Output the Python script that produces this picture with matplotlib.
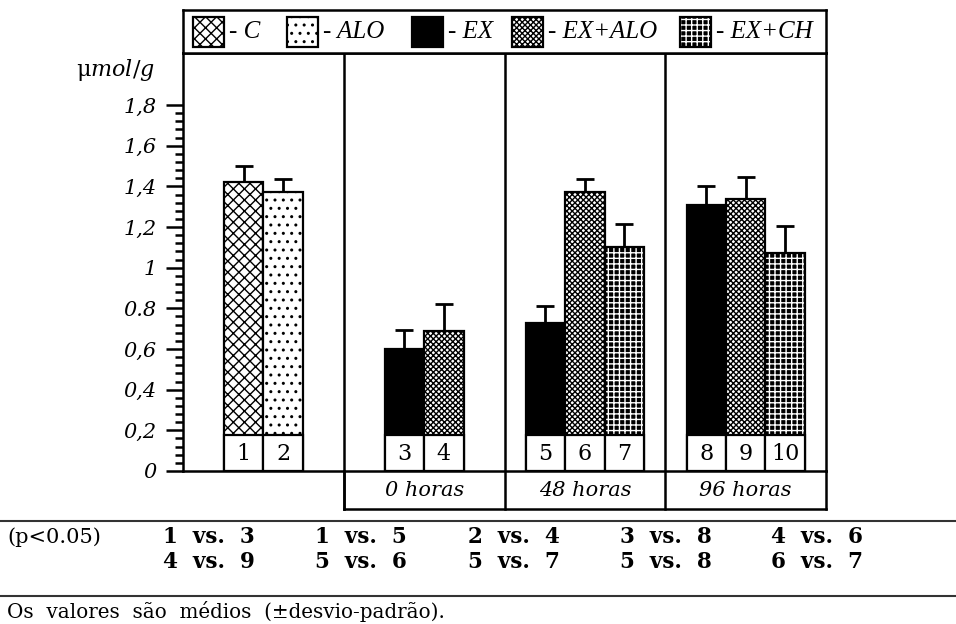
#Bar chart of umol/g per group, with hatch patterns and numbered boxes
import numpy as np
import matplotlib
matplotlib.use("Agg")
import matplotlib.pyplot as plt
from matplotlib.patches import Rectangle
from matplotlib.lines import Line2D

group_labels = ["", "0 horas", "48 horas", "96 horas"]
group_sizes = [2, 2, 3, 3]
bar_numbers = ["1", "2", "3", "4", "5", "6", "7", "8", "9", "10"]
bar_treatments = ["C", "ALO", "EX", "EX+ALO", "EX", "EX+ALO", "EX+CH",
                  "EX", "EX+ALO", "EX+CH"]
means = [1.42, 1.37, 0.60, 0.69, 0.73, 1.37, 1.10, 1.31, 1.34, 1.07]
sds = [0.08, 0.065, 0.095, 0.13, 0.08, 0.065, 0.115, 0.09, 0.105, 0.135]

legend_names = ["C", "ALO", "EX", "EX+ALO", "EX+CH"]
y_ticks = [0, 0.2, 0.4, 0.6, 0.8, 1.0, 1.2, 1.4, 1.6, 1.8]
y_tick_labels = ["0", "0,2", "0,4", "0,6", "0.8", "1", "1,2", "1,4", "1,6", "1,8"]

comparisons = [["1 vs. 3", "1 vs. 5", "2 vs. 4", "3 vs. 8", "4 vs. 6"],
               ["4 vs. 9", "5 vs. 6", "5 vs. 7", "5 vs. 8", "6 vs. 7"]]

# face, hatch colour, hatch
styles = {
    "C": ("white", "black", "xxx"),
    "ALO": ("white", "black", ".."),
    "EX": ("black", "black", None),
    "EX+ALO": ("white", "black", "xxxxxx"),
    "EX+CH": ("black", "white", "+++"),
}

W, H = 956, 624
SERIF = "DejaVu Serif"


def draw_patch(ax, x, y, w, h, name, **kw):
    face, hcol, hatch = styles[name]
    ax.add_patch(Rectangle((x, y), w, h, facecolor=face, edgecolor=hcol,
                           hatch=hatch, linewidth=0, **kw))
    ax.add_patch(Rectangle((x, y), w, h, facecolor="none", edgecolor="black",
                           linewidth=1.6, **kw))


def main():
    plt.rcParams["hatch.linewidth"] = 1.0
    plt.rcParams["mathtext.fontset"] = "dejavuserif"
    fig = plt.figure(figsize=(W / 100, H / 100), dpi=100)

    # main plot area in pixels: x 183..826, y 53..471
    ax = fig.add_axes([183 / W, (H - 471) / H, 643 / W, 418 / H])
    px_per_unit = 203.3
    ytop = 418 / px_per_unit
    ax.set_xlim(0, 16)
    ax.set_ylim(0, ytop)

    # bar positions: each group centred in its panel
    bw = 0.98
    xs = []
    for g, n in enumerate(group_sizes):
        centre = 4 * g + 2
        for i in range(n):
            xs.append(centre + (i - (n - 1) / 2) * bw)
    xs = np.array(xs)

    box_h = 0.177
    for x, m, t in zip(xs, means, bar_treatments):
        draw_patch(ax, x - bw / 2, 0, bw, m, t, zorder=2)
    for x, num in zip(xs, bar_numbers):
        ax.add_patch(Rectangle((x - bw / 2, 0), bw, box_h, facecolor="white",
                               edgecolor="black", linewidth=1.6, zorder=3))
        ax.text(x, box_h / 2 - 0.005, num, ha="center", va="center",
                fontsize=16, family=SERIF, zorder=4)

    ax.errorbar(xs, means, yerr=[np.zeros(len(sds)), sds], fmt="none",
                ecolor="black", elinewidth=2, capsize=6.5, capthick=2, zorder=1)

    # axes and ticks
    for s in ["left", "bottom", "top", "right"]:
        ax.spines[s].set_linewidth(1.8)
    ax.set_xticks([])
    ax.set_yticks(y_ticks)
    ax.set_yticklabels(y_tick_labels, fontsize=15, family=SERIF, style="italic")
    ax.yaxis.set_minor_locator(plt.FixedLocator(np.arange(0, 1.81, 0.04)))
    ax.tick_params(axis="y", which="major", length=12, width=1.8, pad=7)
    ax.tick_params(axis="y", which="minor", length=6, width=1.8)
    ax.text(155 / W, (H - 70) / H, r"$\mathrm{\mu}\mathit{mol/g}$",
            transform=fig.transFigure, ha="right", va="center", fontsize=16)

    # panel separators and group label boxes
    ybot = -(509 - 471) / px_per_unit
    for xsep in [4, 8, 12]:
        ax.plot([xsep, xsep], [ybot, ytop], color="black", lw=1.8, clip_on=False)
    ax.plot([16, 16], [ybot, 0], color="black", lw=1.8, clip_on=False)
    ax.plot([4, 16], [ybot, ybot], color="black", lw=1.8, clip_on=False)
    ax.plot([4, 4], [ybot, 0], color="black", lw=1.8, clip_on=False)
    for g, lab in enumerate(group_labels):
        if lab:
            ax.text(4 * g + 2, ybot / 2, lab, ha="center", va="center",
                    fontsize=15, family=SERIF, style="italic")

    # legend box on top
    lax = fig.add_axes([183 / W, (H - 53) / H, 643 / W, 43 / H])
    lax.set_xlim(0, 643)
    lax.set_ylim(43, 0)
    lax.set_xticks([])
    lax.set_yticks([])
    for s in lax.spines.values():
        s.set_linewidth(1.8)
    patch_x = [10, 104, 229, 329, 497]
    for px, name in zip(patch_x, legend_names):
        draw_patch(lax, px, 7, 31, 30, name)
        lax.text(px + 36, 22, "- " + name, ha="left", va="center",
                 fontsize=18, family="Liberation Serif", style="italic")

    # significance table and note
    for yl in [521, 596]:
        fig.add_artist(Line2D([0, 1], [(H - yl) / H] * 2, color="#333333", lw=1.5))
    fig.text(7 / W, (H - 537) / H, "(p<0.05)", ha="left", va="center",
             fontsize=15, family=SERIF)
    col_x = [163, 315, 468, 620, 771]
    row_y = [537, 562]
    for r, row in enumerate(comparisons):
        for cx, txt in zip(col_x, row):
            fig.text(cx / W, (H - row_y[r]) / H, txt.replace(" ", "  "),
                     ha="left", va="center", fontsize=15.5, family=SERIF,
                     weight="bold")
    fig.text(7 / W, (H - 612) / H, "Os  valores  são  médios  (±desvio-padrão).",
             ha="left", va="center", fontsize=14.3, family=SERIF)

    fig.savefig("out.png", dpi=100)


if __name__ == "__main__":
    main()
